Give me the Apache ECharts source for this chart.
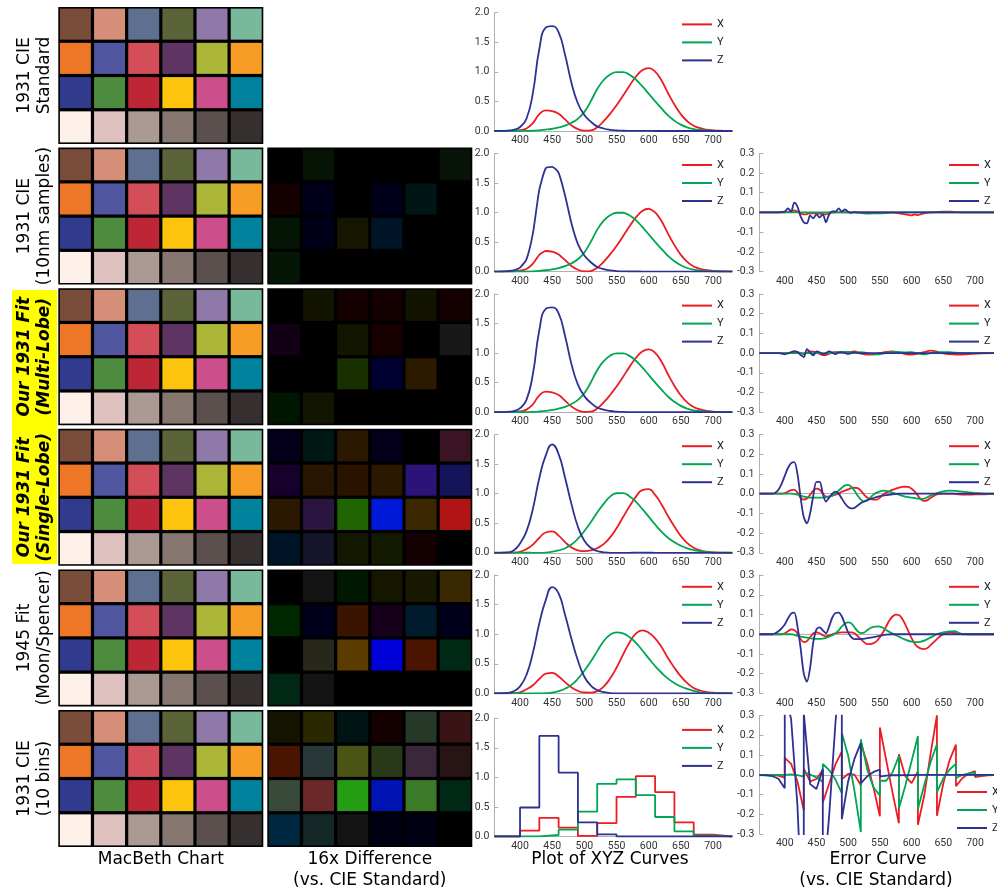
<!DOCTYPE html>
<html><head><meta charset="utf-8">
<script src="https://cdn.jsdelivr.net/npm/echarts@6/dist/echarts.min.js"></script>
<style>html,body{margin:0;padding:0;background:#fff}#c{width:997px;height:894px}</style>
</head><body><div id="c"></div>
<script>
// ---------------- DATA ----------------
const WL10 = [360,370,380,390,400,410,420,430,440,450,460,470,480,490,500,510,520,530,540,550,560,570,580,590,600,610,620,630,640,650,660,670,680,690,700,710,720,730];

// CIE 1931 standard
const CIE_X = [0.0001,0.0004,0.0014,0.0042,0.0143,0.0435,0.1344,0.2839,0.3483,0.3362,0.2908,0.1954,0.0956,0.0320,0.0049,0.0093,0.0633,0.1655,0.2904,0.4334,0.5945,0.7621,0.9163,1.0263,1.0622,1.0026,0.8544,0.6424,0.4479,0.2835,0.1649,0.0874,0.0468,0.0227,0.0114,0.0058,0.0029,0.0014];
const CIE_Y = [0,0,0,0.0001,0.0004,0.0012,0.0040,0.0116,0.0230,0.0380,0.0600,0.0910,0.1390,0.2080,0.3230,0.5030,0.7100,0.8620,0.9540,0.9950,0.9950,0.9520,0.8700,0.7570,0.6310,0.5030,0.3810,0.2650,0.1750,0.1070,0.0610,0.0320,0.0170,0.0082,0.0041,0.0021,0.0010,0.0005];
const CIE_Z = [0.0006,0.0019,0.0065,0.0201,0.0679,0.2074,0.6456,1.3856,1.7471,1.7721,1.6692,1.2876,0.8130,0.4652,0.2720,0.1582,0.0783,0.0422,0.0203,0.0088,0.0039,0.0021,0.0017,0.0011,0.0008,0.0003,0.0002,0,0,0,0,0,0,0,0,0,0,0];

// Single-lobe fit
const SL_X = [0.0001,0.0004,0.0014,0.0042,0.017,0.062,0.139,0.254,0.343,0.361,0.291,0.18,0.091,0.042,0.027,0.039,0.078,0.146,0.26,0.414,0.6,0.782,0.946,1.061,1.077,0.978,0.818,0.622,0.443,0.284,0.165,0.085,0.042,0.018,0.007,0.003,0.001,0];
const SL_Y = [0,0,0,0.0001,0.0004,0.0012,0,0,0.003,0.018,0.04,0.076,0.139,0.238,0.368,0.518,0.68,0.827,0.949,1.007,1.01,0.957,0.865,0.742,0.611,0.478,0.356,0.255,0.178,0.119,0.076,0.046,0.027,0.014,0.007,0.003,0.001,0.0005];
const SL_Z = [0.0006,0.0019,0.0065,0.04,0.158,0.362,0.746,1.266,1.647,1.832,1.669,1.268,0.823,0.44,0.204,0.086,0.03,0.009,0,0,0,0,0.0017,0.0011,0.0008,0.0003,0.0002,0,0,0,0,0,0,0,0,0,0,0];

// 1945 Moon/Spencer fit
const MS_X = [0.0001,0.0004,0.0014,0.0042,0.019,0.069,0.139,0.244,0.333,0.346,0.286,0.19,0.101,0.042,0.015,0.014,0.038,0.116,0.25,0.434,0.65,0.857,1.011,1.066,1.027,0.931,0.785,0.597,0.433,0.289,0.175,0.092,0.049,0.023,0.011,0.006,0.003,0.001];
const MS_Y = [0,0,0,0.0001,0.0004,0.0012,0,0,0.003,0.015,0.038,0.079,0.144,0.248,0.383,0.538,0.715,0.882,0.992,1.033,1.015,0.954,0.858,0.73,0.593,0.463,0.349,0.25,0.175,0.117,0.076,0.044,0.017,0.008,0.004,0.002,0.001,0.0005];
const MS_Z = [0.0006,0.0019,0.0065,0.035,0.118,0.312,0.686,1.186,1.577,1.797,1.689,1.328,0.921,0.555,0.282,0.133,0.055,0.022,0.005,0.001,0.002,0.002,0.0017,0.0011,0.0008,0.0003,0.0002,0,0,0,0,0,0,0,0,0,0,0];

// 10 bins
const BIN_EDGES = [360,400,430,460,490,520,550,580,610,640,670,700,730];
const BIN_X = [0,0.10,0.315,0.15,0.01,0.225,0.67,1.02,0.75,0.24,0.03,0,0];
const BIN_Y = [0,0.003,0.025,0.115,0.42,0.89,0.965,0.70,0.33,0.088,0.016,0,0];
const BIN_Z = [0,0.49,1.70,1.08,0.24,0.035,0,0,0,0,0,0,0];

// Error curves [wavelength, error]
const E2X = [[360,0],[400,0],[405,0.003],[410,0.005],[415,0.01],[420,0.005],[425,-0.005],[430,-0.01],[435,-0.008],[440,-0.004],[450,-0.005],[460,-0.008],[465,-0.01],[470,-0.004],[480,0],[570,0],[580,-0.004],[590,-0.01],[595,-0.012],[600,-0.015],[605,-0.01],[610,-0.014],[615,-0.008],[620,-0.004],[630,0],[650,0.004],[660,0.004],[670,0.002],[680,0],[730,0]];
const E2Y = [[360,0],[510,0],[520,-0.003],[525,-0.005],[530,-0.006],[540,-0.005],[550,-0.005],[560,-0.003],[570,-0.001],[580,0],[730,0]];
const E2Z = [[360,0],[390,0],[395,0.003],[400,0.005],[405,0.02],[410,0.005],[415,0.05],[420,0.03],[425,-0.02],[430,-0.05],[435,-0.055],[440,-0.015],[445,-0.03],[450,-0.01],[455,-0.025],[460,-0.01],[465,-0.05],[470,-0.01],[475,0.005],[480,0.005],[485,0.02],[490,0.005],[495,0.015],[500,0.003],[505,-0.002],[510,0.002],[515,0],[730,0]];

const E3X = [[360,0],[410,0],[420,0.005],[430,-0.005],[440,0.008],[450,0.004],[455,-0.004],[460,-0.01],[465,-0.01],[470,-0.003],[480,0.004],[490,0.003],[500,0.005],[510,0.008],[520,-0.003],[530,-0.008],[540,-0.008],[550,0],[560,0.006],[570,0.008],[580,0.003],[590,-0.005],[600,-0.008],[610,-0.003],[620,0.005],[630,0.012],[637,0.01],[645,0.002],[655,-0.004],[665,-0.007],[675,-0.008],[685,-0.007],[695,-0.004],[710,-0.001],[730,0]];
const E3Y = [[360,0],[470,0],[480,0.003],[490,0.005],[500,0.006],[510,0.002],[520,0.005],[530,0],[540,-0.005],[550,-0.006],[560,0],[570,0.006],[580,0.005],[590,0.003],[600,0.005],[610,-0.003],[620,-0.006],[630,0],[640,0.004],[650,0.005],[660,0.004],[670,0.002],[680,0],[730,0]];
const E3Z = [[360,0],[390,0],[395,-0.003],[400,-0.006],[405,-0.002],[410,0.005],[415,0.01],[420,0.005],[425,-0.01],[430,-0.02],[435,0.02],[440,0.002],[445,-0.012],[450,0.008],[455,0.004],[460,-0.005],[465,0],[470,0.008],[475,0.002],[480,-0.005],[485,0.003],[490,0.004],[495,0],[500,-0.004],[505,0],[510,0.003],[515,0],[730,0]];

const E4X = [[360,0],[395,0],[400,0.003],[405,0.01],[410,0.018],[415,0.02],[420,0.005],[425,-0.02],[430,-0.03],[435,-0.025],[440,-0.005],[445,0.015],[450,0.025],[455,0.02],[460,0],[465,-0.015],[470,-0.015],[475,-0.01],[480,-0.005],[485,0],[490,0.01],[495,0.015],[500,0.022],[505,0.028],[510,0.03],[515,0.028],[520,0.015],[525,-0.005],[530,-0.02],[535,-0.028],[540,-0.03],[545,-0.03],[550,-0.02],[555,-0.005],[560,0.005],[565,0.012],[570,0.02],[575,0.025],[580,0.03],[585,0.034],[590,0.035],[595,0.034],[600,0.025],[605,0.01],[610,-0.01],[615,-0.03],[620,-0.037],[625,-0.033],[630,-0.022],[635,-0.012],[640,-0.004],[645,0],[665,0],[675,-0.004],[685,-0.005],[700,-0.004],[715,-0.003],[730,-0.001]];
const E4Y = [[360,0],[410,0],[415,-0.002],[420,-0.005],[425,-0.01],[430,-0.015],[435,-0.018],[440,-0.02],[460,-0.02],[465,-0.018],[470,-0.015],[475,-0.01],[480,0],[485,0.015],[490,0.03],[495,0.042],[500,0.045],[505,0.035],[510,0.015],[515,-0.01],[520,-0.03],[525,-0.04],[530,-0.035],[535,-0.02],[540,-0.005],[545,0.005],[550,0.012],[557,0.015],[565,0.01],[570,0.005],[575,0],[580,-0.005],[590,-0.015],[600,-0.02],[610,-0.025],[615,-0.027],[620,-0.025],[625,-0.018],[630,-0.01],[635,-0.003],[640,0.003],[650,0.012],[660,0.015],[670,0.014],[680,0.01],[690,0.006],[700,0.003],[715,0],[730,0]];
const E4Z = [[360,0],[380,0],[385,0.005],[390,0.02],[395,0.05],[400,0.09],[405,0.13],[410,0.155],[415,0.16],[420,0.1],[425,-0.02],[430,-0.12],[435,-0.15],[440,-0.1],[445,-0.01],[450,0.06],[455,0.06],[460,0],[465,-0.04],[470,-0.02],[475,0],[480,0.01],[485,0],[490,-0.025],[495,-0.05],[500,-0.068],[505,-0.075],[510,-0.072],[515,-0.06],[520,-0.048],[525,-0.04],[530,-0.033],[540,-0.022],[550,-0.013],[560,-0.007],[570,-0.003],[580,0],[730,0]];

const E5X = [[360,0],[395,0],[400,0.005],[405,0.015],[410,0.025],[415,0.022],[420,0.005],[425,-0.025],[430,-0.04],[435,-0.035],[440,-0.015],[445,0.005],[450,0.01],[455,0.005],[460,-0.005],[465,-0.01],[470,-0.005],[475,0],[480,0.005],[490,0.01],[505,0.01],[510,0.005],[515,-0.01],[520,-0.025],[525,-0.04],[530,-0.05],[535,-0.05],[540,-0.045],[545,-0.035],[550,-0.015],[555,0.01],[560,0.04],[565,0.07],[570,0.09],[575,0.1],[580,0.098],[585,0.08],[590,0.05],[595,0.015],[600,-0.02],[605,-0.048],[610,-0.065],[615,-0.073],[620,-0.075],[625,-0.07],[630,-0.055],[635,-0.04],[640,-0.025],[645,-0.01],[650,0],[655,0.007],[660,0.01],[670,0.006],[680,0.002],[690,0],[730,0]];
const E5Y = [[360,0],[410,0],[415,-0.003],[420,-0.008],[430,-0.015],[440,-0.02],[450,-0.023],[460,-0.022],[465,-0.018],[470,-0.012],[475,-0.005],[480,0.005],[485,0.02],[490,0.04],[495,0.055],[500,0.06],[505,0.055],[510,0.035],[515,0.015],[520,0.006],[525,0.008],[530,0.02],[535,0.032],[540,0.038],[547,0.04],[555,0.033],[560,0.022],[565,0.012],[570,0.003],[575,-0.005],[580,-0.012],[590,-0.027],[600,-0.038],[608,-0.04],[615,-0.037],[620,-0.032],[625,-0.025],[630,-0.016],[635,-0.008],[640,0],[650,0.01],[660,0.015],[668,0.016],[675,0.006],[680,0],[730,0]];
const E5Z = [[360,0],[380,0],[385,0.005],[390,0.015],[395,0.03],[400,0.05],[405,0.08],[410,0.105],[415,0.11],[420,0.04],[425,-0.07],[430,-0.2],[435,-0.24],[440,-0.17],[445,-0.04],[450,0.025],[455,0.035],[460,0.02],[465,0.005],[470,0.04],[475,0.085],[480,0.108],[485,0.11],[490,0.09],[495,0.05],[500,0.01],[505,-0.015],[510,-0.025],[520,-0.024],[530,-0.02],[540,-0.015],[550,-0.008],[560,-0.002],[570,0],[730,0]];

const E6X = [[360,0],[370,0],[380,-0.001],[390,-0.004],[400,-0.014],[400,0.086],[410,0.056],[420,-0.034],[430,-0.18],[430,0.031],[440,-0.033],[450,-0.021],[460,0.024],[460,-0.14],[470,-0.045],[480,0.054],[490,0.118],[490,-0.022],[500,0.005],[510,0.001],[520,-0.053],[520,0.16],[530,0.06],[540,-0.065],[550,-0.21],[550,0.24],[560,0.075],[570,-0.09],[580,-0.246],[580,0.104],[590,-0.006],[600,-0.042],[610,0.017],[610,-0.253],[620,-0.105],[630,0.108],[640,0.302],[640,-0.208],[650,-0.044],[660,0.075],[670,0.153],[670,-0.057],[680,-0.017],[690,0.007],[700,0.019],[700,-0.011],[710,-0.006],[720,-0.003],[730,-0.001]];
const E6Y = [[360,0],[390,0],[400,0],[400,0.003],[410,0.002],[420,-0.001],[430,-0.009],[430,0.013],[440,0.002],[450,-0.013],[460,-0.035],[460,0.055],[470,0.024],[480,-0.024],[490,-0.093],[490,0.212],[500,0.097],[510,-0.083],[520,-0.29],[520,0.18],[530,0.028],[540,-0.064],[550,-0.105],[550,-0.03],[560,-0.03],[570,0.013],[580,0.095],[580,-0.17],[590,-0.057],[600,0.069],[610,0.197],[610,-0.173],[620,-0.051],[630,0.065],[640,0.155],[640,-0.087],[650,-0.019],[660,0.027],[670,0.056],[670,-0.016],[680,-0.001],[690,0.008],[700,0.012],[700,-0.004],[710,-0.002],[720,-0.001],[730,0]];
const E6Z = [[360,-0.001],[370,-0.002],[380,-0.006],[390,-0.02],[400,-0.068],[400,0.42],[410,0.283],[420,-0.156],[430,-0.896],[430,0.314],[440,-0.047],[450,-0.072],[460,0.031],[460,-0.589],[470,-0.208],[480,0.267],[490,0.615],[490,-0.225],[500,-0.032],[510,0.082],[520,0.162],[520,-0.043],[530,-0.007],[540,0.015],[550,0.026],[550,-0.009],[560,-0.004],[570,-0.002],[580,-0.002],[590,-0.001],[600,-0.001],[610,0],[730,0]];

// MacBeth chart colours (4 rows x 6)
const MACBETH = [
 ['#7a4d3b','#d58e77','#5f6f8f','#5b6439','#8f79a9','#79b99b'],
 ['#ee7727','#5056a0','#d44e5a','#5e3462','#abb638','#f79c25'],
 ['#303b8e','#4d8c3f','#bd2634','#fdc40d','#cc4f8b','#00819c'],
 ['#fdf0e8','#dfc2bf','#ab9994','#85766f','#5b504e','#35302f']];

// 16x difference colours
const DIFF_10NM = [
 ['#000000','#061406','#000000','#000000','#000000','#081408'],
 ['#140000','#00001a','#000000','#00001a','#001616','#000000'],
 ['#051505','#000018','#161600','#001628','#000000','#000000'],
 ['#061606','#000000','#000000','#000000','#000000','#000000']];
const DIFF_MULTI = [
 ['#000000','#121400','#140000','#140000','#121400','#140000'],
 ['#120014','#000000','#121600','#160000','#000000','#181818'],
 ['#000000','#000000','#183000','#000030','#2c1a00','#000000'],
 ['#001600','#121600','#000000','#000000','#000000','#000000']];
const DIFF_SINGLE = [
 ['#04001c','#001814','#2a1800','#04001c','#000000','#3a1424'],
 ['#16002c','#2a1600','#2a1400','#2a1800','#2a1478','#14145a'],
 ['#2a1800','#2a1440','#1e6400','#0018d8','#3c2800','#b01414'],
 ['#001428','#14142a','#141800','#141a00','#140000','#000000']];
const DIFF_MOON = [
 ['#000000','#141414','#001800','#161600','#161800','#3a2800'],
 ['#002800','#00001c','#3a1400','#16001c','#001a2e','#00001c'],
 ['#000000','#28281a','#5a3c00','#0000d8','#4a1400','#002814'],
 ['#002814','#141414','#000000','#000000','#000000','#000000']];
const DIFF_BINS = [
 ['#141400','#2a2800','#001414','#140000','#283828','#381414'],
 ['#4a1400','#283838','#4a5414','#283818','#3a283a','#281414'],
 ['#3a4a3a','#6a2828','#249c14','#0014b4','#3a7a28','#002814'],
 ['#002840','#142828','#141414','#000014','#000014','#000000']];

const ROW_LABELS = [
 ['1931 CIE','Standard'],
 ['1931 CIE','(10nm samples)'],
 ['Our 1931 Fit','(Multi-Lobe)'],
 ['Our 1931 Fit','(Single-Lobe)'],
 ['1945 Fit','(Moon/Spencer)'],
 ['1931 CIE','(10 bins)']];
const XYZ_TICKS = [0,0.5,1,1.5,2];
const ERR_TICKS = [-0.3,-0.2,-0.1,0,0.1,0.2,0.3];
const NM_LABELS = [400,450,500,550,600,650,700];

// ---------------- BUILD ----------------
const COL = {X:'#ec1c24', Y:'#00a651', Z:'#2e3192'};
const PITCH = 140.6;
const TICKFONT = 'Roboto';
const grids=[], xAxes=[], yAxes=[], series=[], legends=[];
const zip = (xs, ys) => xs.map((x,i)=>[x, ys[i]]);

function addCells(row, left, colors){
  const gi = grids.length;
  grids.push({left:left, top:7+row*PITCH, width:205, height:137, show:true, backgroundColor:'#000', borderWidth:0});
  xAxes.push({gridIndex:gi, type:'category', data:['a','b','c','d','e','f'], show:false});
  yAxes.push({gridIndex:gi, type:'category', data:['1','2','3','4'], inverse:true, show:false});
  const data=[], fills=[];
  colors.forEach((r,ri)=>r.forEach((c,ci)=>{data.push([ci,ri]); fills.push(c);}));
  series.push({type:'custom', xAxisIndex:xAxes.length-1, yAxisIndex:yAxes.length-1, data:data, silent:true,
    renderItem:function(p, api){
      const c = api.coord([api.value(0), api.value(1)]);
      const s = api.size([1,1]);
      return {type:'rect', shape:{x:c[0]-s[0]/2+1.6, y:c[1]-s[1]/2+1.6, width:s[0]-3.2, height:s[1]-3.2}, style:{fill:fills[p.dataIndex]}};
    }});
}

function addPlot(opts){
  const gi = grids.length;
  grids.push({left:opts.left, top:opts.top, width:opts.width, height:118.3});
  xAxes.push({gridIndex:gi, type:'value', min:360, max:730, interval:10,
    axisLine:{show:opts.kind==='xyz', onZero:false, lineStyle:{color:'#b0b0b0'}},
    axisTick:{show:false}, splitLine:{show:false},
    axisLabel:{margin:4, fontSize:10.5, color:'#333', fontFamily:TICKFONT,
      formatter:v => NM_LABELS.indexOf(v)>=0 ? String(v) : ''}});
  const ticks = opts.kind==='xyz' ? XYZ_TICKS : ERR_TICKS;
  yAxes.push({gridIndex:gi, type:'value', min:ticks[0], max:ticks[ticks.length-1], interval:opts.kind==='xyz'?0.5:0.1,
    axisLine:{show:true, lineStyle:{color:'#b0b0b0'}},
    axisTick:{show:true, inside:true, length:4, lineStyle:{color:'#b0b0b0'}},
    splitLine:{show:false},
    axisLabel:{margin:5, fontSize:10.5, color:'#333', fontFamily:TICKFONT, formatter:v=>v.toFixed(1)}});
  const xi = xAxes.length-1, yi = yAxes.length-1;
  ['X','Y','Z'].forEach((n,k)=>{
    const s = {type:'line', name:n, xAxisIndex:xi, yAxisIndex:yi, data:opts.data[n],
      showSymbol:false, symbol:'none', clip:true, smooth:opts.smooth||false,
      lineStyle:{width:1.8, color:COL[n]}, itemStyle:{color:COL[n]}, z:2+k};
    if (opts.step) s.step = 'end';
    if (opts.kind==='err' && k===0){
      s.markLine = {silent:true, symbol:['none','none'], z:1, label:{show:false}, animation:false,
        lineStyle:{color:'#b0b0b0', width:1, type:'solid'}, data:[{yAxis:0}]};
    }
    series.push(s);
  });
  legends.push({data:['X','Y','Z'], orient:'vertical', left:opts.legLeft, top:opts.legTop, padding:0,
    itemWidth:30, itemHeight:2, itemGap:7, icon:'rect', selectedMode:false,
    textStyle:{fontSize:11, color:'#222', fontFamily:TICKFONT}});
}

const DIFFS = [null, DIFF_10NM, DIFF_MULTI, DIFF_SINGLE, DIFF_MOON, DIFF_BINS];
const XYZ = [
 {X:zip(WL10,CIE_X), Y:zip(WL10,CIE_Y), Z:zip(WL10,CIE_Z), smooth:0.5},
 {X:zip(WL10,CIE_X), Y:zip(WL10,CIE_Y), Z:zip(WL10,CIE_Z), smooth:0.2},
 {X:zip(WL10,CIE_X), Y:zip(WL10,CIE_Y), Z:zip(WL10,CIE_Z), smooth:0.5},
 {X:zip(WL10,SL_X), Y:zip(WL10,SL_Y), Z:zip(WL10,SL_Z), smooth:0.5},
 {X:zip(WL10,MS_X), Y:zip(WL10,MS_Y), Z:zip(WL10,MS_Z), smooth:0.5},
 {X:zip(BIN_EDGES,BIN_X), Y:zip(BIN_EDGES,BIN_Y), Z:zip(BIN_EDGES,BIN_Z), step:true}];
const ERRS = [null,
 {X:E2X,Y:E2Y,Z:E2Z, smooth:0.3},
 {X:E3X,Y:E3Y,Z:E3Z, smooth:0.3},
 {X:E4X,Y:E4Y,Z:E4Z, smooth:0.3},
 {X:E5X,Y:E5Y,Z:E5Z, smooth:0.3},
 {X:E6X,Y:E6Y,Z:E6Z, smooth:false}];

for (let i=0;i<6;i++){
  addCells(i, 58.3, MACBETH);
  if (DIFFS[i]) addCells(i, 267.3, DIFFS[i]);
  const off = i===5 ? 2.5 : 0;
  const t = 12.7 + i*PITCH;
  addPlot({kind:'xyz', left:494.3, top:t+off, width:238, data:XYZ[i], smooth:XYZ[i].smooth, step:XYZ[i].step,
    legLeft:682, legTop:t+off+6.2});
  if (ERRS[i]) addPlot({kind:'err', left:759.4, top:t, width:237.6, data:ERRS[i], smooth:ERRS[i].smooth,
    legLeft: i===5 ? 957 : 949, legTop: i===5 ? 786.5 : t+6.2});
}

// ---------------- TEXT ----------------
const graphic = [];
graphic.push({type:'rect', shape:{x:12, y:290, width:45, height:274}, style:{fill:'#ffff00'}, z:0, silent:true});
ROW_LABELS.forEach((lab,i)=>{
  const cy = 75.5 + i*PITCH;
  const font = (i===2||i===3) ? 'italic bold 17px "DejaVu Sans"' : '17px "DejaVu Sans"';
  [24.5, 44.5].forEach((x,k)=>{
    graphic.push({type:'text', x:x, y:cy, rotation:Math.PI/2, z:10, silent:true,
      style:{text:lab[k], font:font, fill:'#000', align:'center', verticalAlign:'middle', textAlign:'center', textVerticalAlign:'middle'}});
  });
});
const COL_LABELS = [
 [160.8, 860, 'MacBeth Chart'],
 [369.8, 860, '16x Difference'],
 [369.8, 881, '(vs. CIE Standard)'],
 [610, 860, 'Plot of XYZ Curves'],
 [878, 860, 'Error Curve'],
 [876, 881, '(vs. CIE Standard)']];
COL_LABELS.forEach(c=>{
  graphic.push({type:'text', x:c[0], y:c[1], z:10, silent:true,
    style:{text:c[2], font:'17px "DejaVu Sans"', fill:'#000', align:'center', verticalAlign:'middle', textAlign:'center', textVerticalAlign:'middle'}});
});

const chart = echarts.init(document.getElementById('c'), null, {renderer:'canvas'});
chart.setOption({
  animation:false, backgroundColor:'#fff',
  grid:grids, xAxis:xAxes, yAxis:yAxes, series:series, legend:legends, graphic:graphic
});
</script></body></html>
